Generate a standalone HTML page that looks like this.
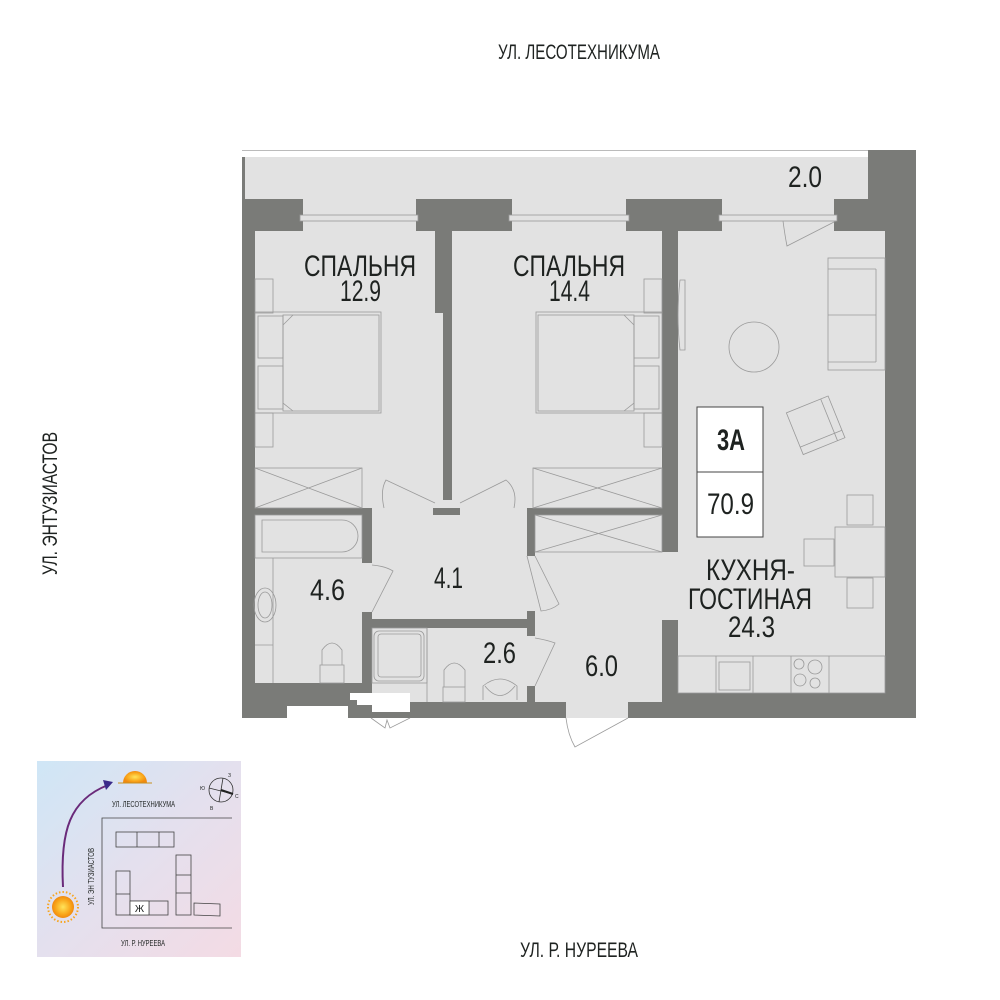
<!DOCTYPE html>
<html><head><meta charset="utf-8"><style>
html,body{margin:0;padding:0;background:#fff;width:1000px;height:1000px;overflow:hidden}
svg text{font-family:"Liberation Sans Narrow","Liberation Sans",sans-serif;fill:#1e2220}
</style></head><body>
<svg width="1000" height="1000" viewBox="0 0 1000 1000" xmlns="http://www.w3.org/2000/svg">
<defs>
<linearGradient id="bg" x1="0" y1="0" x2="1" y2="1">
<stop offset="0" stop-color="#cfe6f6"/><stop offset="0.5" stop-color="#e4e0ee"/><stop offset="1" stop-color="#f4dbe4"/>
</linearGradient>
<radialGradient id="sun"><stop offset="0" stop-color="#ffe45a"/><stop offset="0.7" stop-color="#f9a51a"/><stop offset="1" stop-color="#f08a10"/></radialGradient>
</defs>
<!-- streets -->
<text x="498" y="59" font-size="21" textLength="162" lengthAdjust="spacingAndGlyphs">УЛ. ЛЕСОТЕХНИКУМА</text>
<text x="520" y="957" font-size="21" textLength="118" lengthAdjust="spacingAndGlyphs">УЛ. Р. НУРЕЕВА</text>
<text transform="translate(57,575) rotate(-90)" font-size="21" textLength="143" lengthAdjust="spacingAndGlyphs">УЛ. ЭНТУЗИАСТОВ</text>

<!-- walls -->
<line x1="242" y1="150.5" x2="868" y2="150.5" stroke="#bbb" stroke-width="1"/>
<rect x="242" y="157" width="626" height="561" fill="#7a7b78"/>
<rect x="868" y="150" width="48" height="568" fill="#7a7b78"/>
<!-- balcony -->
<rect x="245" y="157" width="623" height="42" fill="#e2e2e2"/>
<text x="788" y="187" font-size="30" textLength="34" lengthAdjust="spacingAndGlyphs">2.0</text>
<!-- windows -->
<g fill="#e2e2e2" stroke="#999" stroke-width="0.8">
<rect x="303" y="199" width="113" height="33" stroke="none"/>
<rect x="300" y="215" width="118" height="6"/>
<rect x="512" y="199" width="114" height="33" stroke="none"/>
<rect x="509" y="215" width="120" height="6"/>
<rect x="722" y="199" width="112" height="33" stroke="none"/>
<rect x="719" y="215" width="118" height="6"/>
</g>
<!-- floors -->
<g fill="#e2e2e2">
<rect x="255" y="231" width="180" height="277"/>
<rect x="435" y="313" width="8" height="195"/>
<rect x="452" y="231" width="210" height="277"/>
<rect x="678" y="231" width="207" height="462"/>
<rect x="255" y="515" width="107" height="168"/>
<rect x="362" y="563" width="10" height="49"/>
<rect x="372" y="508" width="155" height="111"/>
<rect x="443" y="500" width="9" height="8"/>
<rect x="372" y="628" width="155" height="74"/>
<rect x="527" y="556" width="8" height="55"/>
<rect x="527" y="636" width="8" height="50"/>
<rect x="535" y="515" width="127" height="203"/>
<rect x="662" y="552" width="16" height="68"/>
<rect x="378" y="508" width="55" height="7"/>
<rect x="460" y="508" width="57" height="7"/>
</g>
<rect x="433" y="508" width="27" height="7" fill="#7a7b78"/>
<rect x="535" y="702" width="31" height="16" fill="#7a7b78"/>
<rect x="628" y="702" width="34" height="16" fill="#7a7b78"/>
<rect x="535" y="693" width="127" height="9" fill="#e2e2e2"/>
<rect x="566" y="702" width="62" height="16" fill="#e2e2e2"/>
<!-- bottom notches -->
<rect x="287" y="706" width="61" height="14" fill="#fff"/>
<polygon points="350,693 410,693 410,712 372,712 372,705 357,705 357,700 350,700" fill="#fff"/>
<rect x="348" y="718" width="70" height="4" fill="#fff"/>

<g fill="none" stroke="#9a9a9a" stroke-width="0.8">
<rect x="255" y="279" width="18" height="34"/>
<rect x="255" y="413" width="18" height="34"/>
<rect x="258" y="316" width="25" height="42"/><rect x="258" y="366" width="25" height="43"/>
<rect x="255" y="312" width="126" height="101"/>
<rect x="283" y="315" width="96" height="96"/>
<polyline points="293,315 283,325 283,403 293,411"/>
<rect x="255" y="468" width="107" height="40"/>
<line x1="255" y1="468" x2="362" y2="508"/><line x1="362" y1="468" x2="255" y2="508"/>
<rect x="644" y="279" width="18" height="34"/>
<rect x="644" y="413" width="18" height="34"/>
<rect x="634" y="316" width="25" height="42"/><rect x="634" y="366" width="25" height="43"/>
<rect x="536" y="312" width="126" height="101"/>
<rect x="538" y="315" width="96" height="96"/>
<polyline points="624,315 634,325 634,403 624,411"/>
<rect x="533" y="468" width="129" height="40"/>
<line x1="533" y1="468" x2="662" y2="508"/><line x1="662" y1="468" x2="533" y2="508"/>
<rect x="535" y="515" width="127" height="37"/>
<line x1="535" y1="515" x2="662" y2="552"/><line x1="662" y1="515" x2="535" y2="552"/>
<path d="M384,508 Q380,490 386,480 L435,503"/>
<path d="M514,508 Q518,490 506,480 L460,503"/>
<rect x="255" y="515" width="107" height="43"/>
<path d="M262,520 H342 A16,16 0 0 1 342,552 H262 Z"/>
<line x1="273" y1="558" x2="273" y2="683"/>
<line x1="255" y1="645" x2="273" y2="645"/>
<ellipse cx="265" cy="605" rx="11" ry="17"/>
<ellipse cx="265" cy="605" rx="7" ry="13"/>
<rect x="320" y="665" width="24" height="18"/><path d="M322,665 V650 Q332,636 342,650 V665"/>
<path d="M372,565 Q385,566 393,571 L372,612"/>
<rect x="372" y="628" width="55" height="55"/>
<rect x="374" y="631" width="50" height="50" rx="5"/><rect x="378" y="634" width="43" height="43" rx="3"/>
<line x1="427" y1="628" x2="427" y2="702"/>
<rect x="443" y="687" width="22" height="15"/><path d="M444,687 V670 Q454,656 465,670 V687"/>
<path d="M483,700 V686 Q500,672 517,686 V700"/>
<path d="M485,686 Q500,705 515,686"/>
<path d="M535,638 Q547,640 555,643 L535,686"/>
<path d="M527,556 L541,611 Q552,610 559,604 L535,556"/>
<path d="M566,718 Q568,735 575,747 L628,718"/>
<path d="M371,718 L385,728 L387,720 L390,728 L410,718"/>
<path d="M783,221 Q785,236 787,246 L836,221"/>
<rect x="828" y="258" width="57" height="112"/>
<line x1="876" y1="269" x2="876" y2="362"/><line x1="828" y1="269" x2="876" y2="269"/><line x1="828" y1="362" x2="876" y2="362"/>
<line x1="828" y1="315" x2="876" y2="315"/>
<circle cx="754" cy="347" r="25"/>
<path d="M680,280 H685 V350 H680 Q676,315 680,280 Z"/>
<g transform="rotate(-22 815 425)"><rect x="793" y="403" width="45" height="45"/><line x1="793" y1="440" x2="838" y2="440"/><line x1="830" y1="403" x2="830" y2="448"/></g>
<rect x="835" y="527" width="50" height="50"/>
<rect x="847" y="495" width="26" height="30"/><rect x="847" y="578" width="26" height="30"/>
<rect x="804" y="539" width="30" height="27"/>
<rect x="678" y="656" width="207" height="37"/>
<line x1="716" y1="656" x2="716" y2="693"/><line x1="753" y1="656" x2="753" y2="693"/>
<line x1="791" y1="656" x2="791" y2="693"/><line x1="829" y1="656" x2="829" y2="693"/>
<rect x="719" y="662" width="31" height="28"/>
<circle cx="799" cy="664" r="5"/><circle cx="815" cy="667" r="7"/><circle cx="800" cy="680" r="6"/><circle cx="815" cy="683" r="5"/>
</g>

<rect x="697" y="407" width="66" height="130" fill="#fff" stroke="#444" stroke-width="1"/>
<line x1="697" y1="472" x2="763" y2="472" stroke="#444"/>
<text x="717" y="450" font-size="30" font-weight="bold" textLength="28" lengthAdjust="spacingAndGlyphs">3А</text>
<text x="707" y="514" font-size="30" textLength="47" lengthAdjust="spacingAndGlyphs">70.9</text>

<g font-size="30">
<text x="304" y="276" textLength="112" lengthAdjust="spacingAndGlyphs">СПАЛЬНЯ</text>
<text x="340" y="301" textLength="41" lengthAdjust="spacingAndGlyphs">12.9</text>
<text x="513" y="276" textLength="112" lengthAdjust="spacingAndGlyphs">СПАЛЬНЯ</text>
<text x="549" y="301" textLength="41" lengthAdjust="spacingAndGlyphs">14.4</text>
<text x="706" y="580" textLength="89" lengthAdjust="spacingAndGlyphs">КУХНЯ-</text>
<text x="688" y="609" textLength="124" lengthAdjust="spacingAndGlyphs">ГОСТИНАЯ</text>
<text x="728" y="637" textLength="47" lengthAdjust="spacingAndGlyphs">24.3</text>
<text x="310" y="600" textLength="35" lengthAdjust="spacingAndGlyphs">4.6</text>
<text x="434" y="588" textLength="29" lengthAdjust="spacingAndGlyphs">4.1</text>
<text x="483" y="663" textLength="33" lengthAdjust="spacingAndGlyphs">2.6</text>
<text x="585" y="676" textLength="33" lengthAdjust="spacingAndGlyphs">6.0</text>
</g>

<!-- mini map -->
<rect x="37" y="761" width="204" height="196" fill="url(#bg)"/>
<path d="M63,887 C60,830 70,800 108,785" fill="none" stroke="#6a2a7a" stroke-width="2"/>
<polygon points="103,780 113,782 106,790" fill="#3a2a8a"/>
<circle cx="63" cy="907" r="11" fill="url(#sun)"/>
<circle cx="63" cy="907" r="15" fill="none" stroke="#f7a520" stroke-width="2" stroke-dasharray="1.5 2"/>
<path d="M123,783 A12,12 0 0 1 147,783 Z" fill="url(#sun)"/>
<line x1="118" y1="783" x2="152" y2="783" stroke="#c89020"/>
<text x="112" y="807" font-size="8" textLength="63" lengthAdjust="spacingAndGlyphs">УЛ. ЛЕСОТЕХНИКУМА</text>
<text x="121" y="946" font-size="8" textLength="44" lengthAdjust="spacingAndGlyphs">УЛ. Р. НУРЕЕВА</text>
<text transform="translate(94,905) rotate(-90)" font-size="8" textLength="57" lengthAdjust="spacingAndGlyphs">УЛ. ЭН ТУЗИАСТОВ</text>
<circle cx="221" cy="790" r="12" fill="none" stroke="#333" stroke-width="0.8"/>
<line x1="223" y1="778" x2="219" y2="802" stroke="#333" stroke-width="0.8"/>
<line x1="209" y1="788" x2="233" y2="794" stroke="#333" stroke-width="0.8"/>
<line x1="221" y1="790" x2="233" y2="794" stroke="#222" stroke-width="2"/>
<g font-size="5"><text x="228" y="777">З</text><text x="235" y="798">С</text><text x="210" y="810">В</text><text x="200" y="790">Ю</text></g>
<g fill="none" stroke="#444" stroke-width="0.8">
<polyline points="232,818 102,818 102,928 232,928"/>
<rect x="116" y="832" width="58" height="15"/>
<line x1="137" y1="832" x2="137" y2="847"/><line x1="159" y1="832" x2="159" y2="847"/>
<rect x="116" y="871" width="14" height="44"/><line x1="116" y1="894" x2="130" y2="894"/>
<rect x="130" y="901" width="38" height="14"/><line x1="149" y1="901" x2="149" y2="915"/>
<rect x="176" y="855" width="15" height="60"/><line x1="176" y1="875" x2="191" y2="875"/><line x1="176" y1="893" x2="191" y2="893"/>
<polygon points="194,903 220,904 220,916 194,915"/>
</g>
<rect x="130" y="901" width="19" height="14" fill="#fff" stroke="#444" stroke-width="0.8"/>
<text x="139.5" y="912" font-size="10" text-anchor="middle">Ж</text>
</svg>
</body></html>
